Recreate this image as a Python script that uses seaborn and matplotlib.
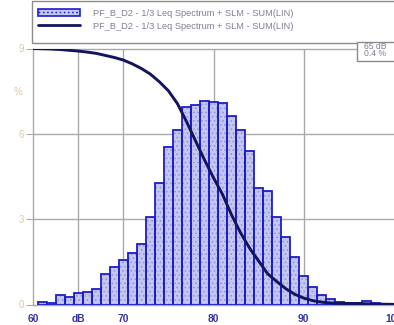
import numpy as np
import pandas as pd
import matplotlib
matplotlib.use("Agg")
import matplotlib.pyplot as plt
import seaborn as sns
from matplotlib.patches import Patch, Rectangle
from matplotlib.lines import Line2D

# Level distribution (1 dB classes, % of time)
levels_db = [61, 62, 63, 64, 65, 66, 67, 68, 69, 70,
             71, 72, 73, 74, 75, 76, 77, 78, 79, 80,
             81, 82, 83, 84, 85, 86, 87, 88, 89, 90,
             91, 92, 93, 94, 95, 96, 97, 98, 99]
share_pct = [0.08, 0.05, 0.32, 0.28, 0.4, 0.43, 0.55, 1.08, 1.31, 1.56,
             1.82, 2.11, 3.07, 4.27, 5.54, 6.15, 6.96, 7.02, 7.17, 7.11,
             7.10, 6.62, 6.15, 5.41, 4.08, 3.98, 3.08, 2.37, 1.66, 1.00,
             0.63, 0.35, 0.18, 0.09, 0.05, 0.05, 0.13, 0.04, 0.03]

# Cumulative curve (% of time above level)
curve_db = [60, 61, 62, 63, 64, 65, 66, 67, 68, 69, 70,
            71, 72, 73, 74, 75, 76, 77, 78, 79, 80,
            81, 82, 83, 84, 85, 86, 87, 88, 89, 90,
            91, 92, 93, 94, 95, 96, 97, 98, 99, 100]
curve_pct = [100, 99.9, 99.8, 99.6, 99.3, 99.0, 98.6, 98.1, 97.3, 96.5, 95.5,
             94.0, 92.2, 90.0, 87.0, 83.5, 78.5, 71.5, 64.0, 56.5, 49.5,
             43.0, 35.0, 28.0, 22.0, 17.0, 12.0, 9.0, 6.2, 4.0, 2.5,
             1.5, 0.9, 0.6, 0.45, 0.4, 0.35, 0.25, 0.15, 0.1, 0.05]

x_ticks = [60, 65, 70, 80, 90, 100]
x_tick_labels = ["60", "dB", "70", "80", "90", "100"]
y_ticks = [0, 3, 6, 9]
series_name = "PF_B_D2 - 1/3 Leq Spectrum + SLM - SUM(LIN)"
cursor_db = 65

hist_df = pd.DataFrame({"level": levels_db, "share": share_pct})
curve_df = pd.DataFrame({"level": curve_db, "pct": curve_pct})

sns.set_style("white")
plt.rcParams["font.family"] = ["Liberation Sans", "DejaVu Sans"]
plt.rcParams["hatch.linewidth"] = 0.6

W, H = 394, 325
fig = plt.figure(figsize=(W / 100, H / 100), dpi=100)
ax = fig.add_axes([33 / W, (H - 304.5) / H, 361 / W, 256 / H])

BAR_EDGE = "#1c1ccf"
BAR_FACE = "#c3c6ee"
HATCH_COL = "#8e94dc"
GRID = "#a9a9a9"
NAVY = "#13135e"
TEXT_GRAY = "#7d8094"
TAN = "#dcc9a2"

bin_edges = [float(b) for b in np.arange(60.5, 100.5, 1.0)]
# dotted fill layer
sns.histplot(data=hist_df, x="level", weights="share", bins=bin_edges, ax=ax,
             stat="count", element="bars", fill=True, color=BAR_FACE,
             edgecolor=HATCH_COL, linewidth=0, hatch="....", alpha=1, zorder=2)
# outline layer
sns.histplot(data=hist_df, x="level", weights="share", bins=bin_edges, ax=ax,
             stat="count", element="bars", fill=False, color=BAR_EDGE,
             linewidth=1.3, zorder=3)

ax.set_xlim(60, 100)
ax.set_ylim(0, 9)
ax.set_xlabel("")
ax.set_ylabel("")
ax.set_axisbelow(True)

for y in [3, 6]:
    ax.axhline(y, color=GRID, lw=1, zorder=0)
for x in [70, 80, 90]:
    ax.axvline(x, color=GRID, lw=1, zorder=0)
ax.axvline(cursor_db, color=GRID, lw=1, zorder=0)

ax.set_xticks(x_ticks)
ax.set_xticklabels(x_tick_labels)
ax.set_yticks(y_ticks)
ax.set_yticklabels([str(v) for v in y_ticks])
ax.tick_params(axis="x", direction="out", length=4.5, width=0.8, color=GRID,
               labelsize=7.4, labelcolor="#3434a8", pad=2)
ax.tick_params(axis="y", direction="out", length=5, width=0.8, color=GRID,
               labelsize=7, labelcolor=TAN, pad=1.5)
for lbl in ax.get_xticklabels():
    lbl.set_fontweight("bold")
for side in ["left", "bottom", "top"]:
    ax.spines[side].set_color(GRID)
    ax.spines[side].set_linewidth(1)
ax.spines["right"].set_visible(False)

ax.text(-11 / 361, 7.47, "%", transform=ax.get_yaxis_transform(), ha="right",
        va="center", fontsize=7, color=TAN)

# cumulative curve on its own 0-100 % scale
ax2 = ax.twinx()
sns.lineplot(data=curve_df, x="level", y="pct", ax=ax2, color=NAVY, lw=2.1)
ax2.set_ylim(0, 100)
ax2.set_xlim(60, 100)
ax2.set_ylabel("")
ax2.set_yticks([])
for s in ax2.spines.values():
    s.set_visible(False)

# legend strip
fig.patches.append(Rectangle((32 / W, (H - 43) / H), 1.0, 42 / H,
                             transform=fig.transFigure, facecolor="white",
                             edgecolor="#8c8c8c", lw=1, zorder=0))
handles = [Patch(facecolor=BAR_FACE, edgecolor=BAR_EDGE, hatch="....", lw=1.2),
           Line2D([0], [0], color=NAVY, lw=2)]
fig.legend(handles, [series_name, series_name], loc="upper left",
           bbox_to_anchor=(34.5 / W, 1 - 5.0 / H), frameon=False,
           fontsize=6.7, labelcolor=TEXT_GRAY, handlelength=4.5,
           handleheight=0.9, handletextpad=1.35, labelspacing=0.42,
           borderaxespad=0, borderpad=0.4)

# cursor readout
cursor_val = share_pct[levels_db.index(cursor_db)]
fig.patches.append(Rectangle((357 / W, (H - 61) / H), 1.0, 19 / H,
                             transform=fig.transFigure, facecolor="white",
                             edgecolor="#8c8c8c", lw=1, zorder=5))
fig.text(375 / W, 1 - 46.5 / H, f"{cursor_db} dB", ha="center", va="center",
         fontsize=6.2, color=TEXT_GRAY, zorder=6)
fig.text(375 / W, 1 - 54 / H, f"{cursor_val} %", ha="center", va="center",
         fontsize=6.2, color=TEXT_GRAY, zorder=6)

fig.savefig("out.png", dpi=100)
